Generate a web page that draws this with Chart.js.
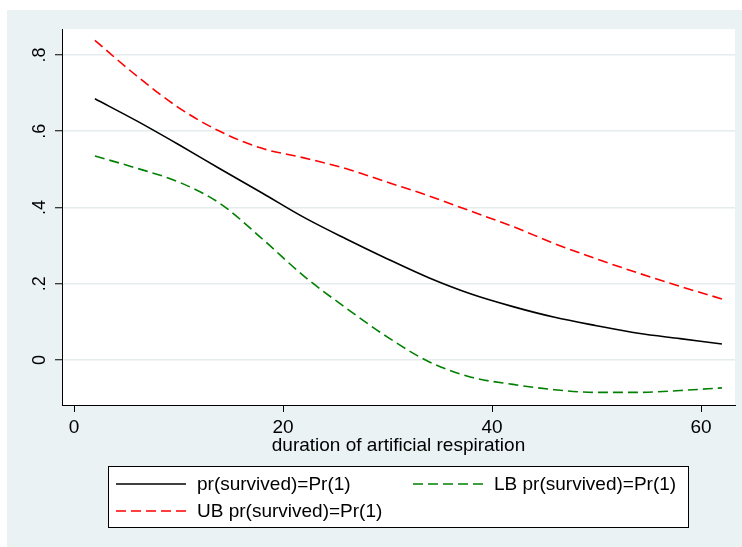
<!DOCTYPE html>
<html>
<head>
<meta charset="utf-8">
<script src="https://cdn.jsdelivr.net/npm/chart.js@4/dist/chart.umd.min.js"></script>
<style>
  body { margin: 0; background: #fff; }
  #wrap { width: 742px; height: 547px; }
</style>
</head>
<body>
<div id="wrap"><canvas id="chart" width="742" height="547"></canvas></div>
<script>
// duration of artificial respiration (x) and predicted survival with bounds
const durations = [2, 6, 10, 14, 18, 22, 26, 30, 34, 38, 42, 46, 50, 54, 58, 62];
const prSurvived = [0.685, 0.627, 0.565, 0.501, 0.438, 0.374, 0.318, 0.265, 0.215, 0.173, 0.140, 0.112, 0.090, 0.070, 0.056, 0.042];
const lbSurvived = [0.535, 0.503, 0.467, 0.410, 0.318, 0.220, 0.137, 0.060, -0.005, -0.045, -0.064, -0.078, -0.085, -0.085, -0.080, -0.073];
const ubSurvived = [0.838, 0.745, 0.662, 0.599, 0.555, 0.530, 0.502, 0.466, 0.430, 0.390, 0.350, 0.305, 0.265, 0.228, 0.193, 0.160];

const xTicks = [0, 20, 40, 60];
const yTicks = [0, 0.2, 0.4, 0.6, 0.8];
const yTickLabels = ['0', '.2', '.4', '.6', '.8'];
const xTitle = 'duration of artificial respiration';

const seriesLabels = ['pr(survived)=Pr(1)', 'LB pr(survived)=Pr(1)', 'UB pr(survived)=Pr(1)'];

const FONT = '"Liberation Sans", Arial, sans-serif';
const BG = '#EAF2F3';

Chart.defaults.font.family = FONT;
Chart.defaults.color = '#000';

function points(values) {
  return durations.map((x, i) => ({ x: x, y: values[i] }));
}

const stataLook = {
  id: 'stataLook',
  beforeDraw(chart) {
    const ctx = chart.ctx;
    const a = chart.chartArea;
    ctx.save();
    ctx.fillStyle = BG;
    ctx.fillRect(7, 10, 735, 537);
    ctx.fillStyle = '#fff';
    ctx.fillRect(a.left, a.top, a.right - a.left, a.bottom - a.top);
    ctx.restore();
  },
  afterDraw(chart) {
    const ctx = chart.ctx;
    const a = chart.chartArea;
    const yScale = chart.scales.y;
    ctx.save();
    ctx.fillStyle = '#000';
    ctx.font = '18px ' + FONT;

    // rotated y tick labels
    yTicks.forEach((v, i) => {
      const py = yScale.getPixelForValue(v);
      ctx.save();
      ctx.translate(40, py);
      ctx.rotate(-Math.PI / 2);
      ctx.textAlign = 'center';
      ctx.textBaseline = 'middle';
      ctx.fillText(yTickLabels[i], 0, 0);
      ctx.restore();
    });

    // x axis title
    ctx.font = '19px ' + FONT;
    ctx.textAlign = 'center';
    ctx.textBaseline = 'alphabetic';
    ctx.fillText(xTitle, (a.left + a.right) / 2, 451);

    // legend box
    ctx.fillStyle = '#fff';
    ctx.fillRect(108.5, 466.5, 580, 61);
    ctx.strokeStyle = '#000';
    ctx.lineWidth = 1;
    ctx.strokeRect(108.5, 466.5, 580, 61);

    const slots = [
      { x: 116, y: 484 },
      { x: 413, y: 484 },
      { x: 116, y: 511 }
    ];
    chart.data.datasets.forEach((ds, i) => {
      const s = slots[i];
      ctx.save();
      ctx.strokeStyle = ds.borderColor;
      ctx.lineWidth = ds.borderWidth;
      ctx.setLineDash(ds.borderDash || []);
      ctx.beginPath();
      ctx.moveTo(s.x, s.y);
      ctx.lineTo(s.x + 70, s.y);
      ctx.stroke();
      ctx.restore();
      ctx.fillStyle = '#000';
      ctx.textAlign = 'left';
      ctx.textBaseline = 'middle';
      ctx.fillText(ds.label, s.x + 81, s.y + 1);
    });
    ctx.restore();
  }
};

new Chart(document.getElementById('chart'), {
  type: 'line',
  data: {
    datasets: [
      {
        label: seriesLabels[0],
        data: points(prSurvived),
        borderColor: '#000000',
        borderWidth: 1.6,
        pointRadius: 0,
        cubicInterpolationMode: 'monotone'
      },
      {
        label: seriesLabels[1],
        data: points(lbSurvived),
        borderColor: '#008000',
        borderWidth: 1.6,
        borderDash: [10, 5],
        pointRadius: 0,
        cubicInterpolationMode: 'monotone'
      },
      {
        label: seriesLabels[2],
        data: points(ubSurvived),
        borderColor: '#FF0000',
        borderWidth: 1.6,
        borderDash: [10, 5],
        pointRadius: 0,
        cubicInterpolationMode: 'monotone'
      }
    ]
  },
  options: {
    responsive: false,
    animation: false,
    layout: { padding: { top: 29, right: 7, left: 0, bottom: 0 } },
    plugins: {
      legend: { display: false },
      tooltip: { enabled: false }
    },
    scales: {
      x: {
        type: 'linear',
        min: -1.15,
        max: 63.25,
        afterBuildTicks: s => { s.ticks = xTicks.map(v => ({ value: v })); },
        afterFit: s => { s.height = 142; },
        ticks: {
          font: { size: 19 },
          color: '#000',
          padding: 4,
          maxRotation: 0,
          callback: v => String(v)
        },
        grid: {
          drawOnChartArea: false,
          drawTicks: true,
          tickLength: 7,
          tickColor: '#000',
          tickWidth: 1
        },
        border: { display: true, color: '#000', width: 1 }
      },
      y: {
        type: 'linear',
        min: -0.118,
        max: 0.868,
        afterBuildTicks: s => { s.ticks = yTicks.map(v => ({ value: v })); },
        afterFit: s => { s.width = 62; },
        ticks: { display: false },
        grid: {
          color: '#E4ECEE',
          lineWidth: 1.5,
          drawTicks: true,
          tickLength: 7,
          tickColor: '#000',
          tickWidth: 1
        },
        border: { display: true, color: '#000', width: 1 }
      }
    }
  },
  plugins: [stataLook]
});
</script>
</body>
</html>
